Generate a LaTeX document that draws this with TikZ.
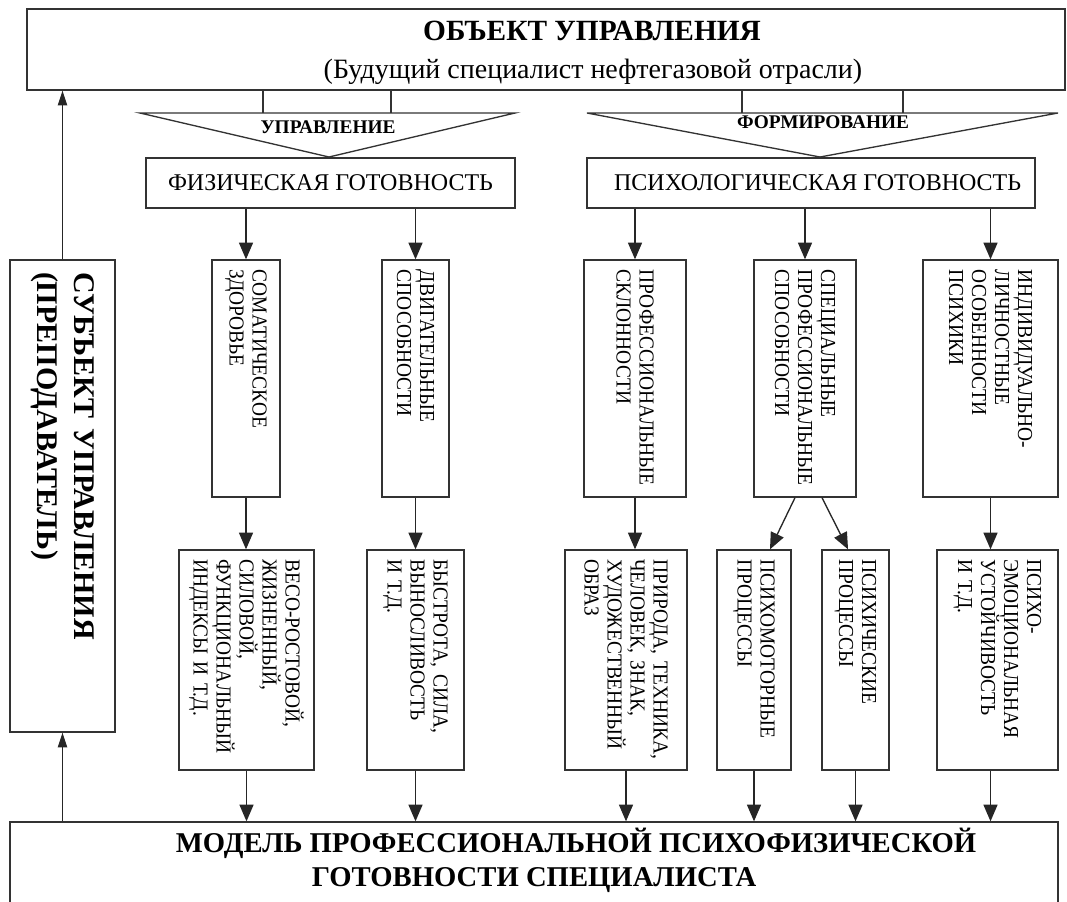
\documentclass[tikz,border=0pt]{standalone}
\usepackage{fontspec}
\setmainfont{Liberation Serif}
\newfontfamily\condfont{Liberation Serif}[FakeStretch=0.91]
\usetikzlibrary{arrows.meta,calc}
\begin{document}
\begin{tikzpicture}[x=0.75pt,y=-0.75pt,
  line width=1pt,
  box/.style={draw=black!80, line width=1pt, inner sep=0pt},
  vt/.style={box, rotate=-90, align=left, font=\condfont\fontsize{16}{17.25}\selectfont, inner xsep=7pt},
  arr/.style={draw=black!85, line width=1pt, -{Triangle[length=12.5pt,width=10.5pt]}},
  uparr/.style={draw=black!85, line width=0.8pt, -{Triangle[length=11pt,width=7pt]}},
  tri/.style={draw=black!80, line width=1pt},
]
\useasboundingbox (0,0) rectangle (1067,901);
% top box
\node[box, minimum width=778.5pt, minimum height=60.75pt] (top) at (546,49.5) {};
\node[font=\bfseries\fontsize{22}{26}\selectfont] (ttl) at (592,31) {ОБЪЕКТ УПРАВЛЕНИЯ};
\node[font=\fontsize{21}{24}\selectfont] (tsub) at (593,72) {(Будущий специалист нефтегазовой отрасли)};
% triangles
\coordinate (lt1) at (140,113); \coordinate (lt2) at (515,113); \coordinate (lt3) at (329,157);
\coordinate (rt1) at (587,113); \coordinate (rt2) at (1058,113); \coordinate (rt3) at (820,157);
\draw[tri] (lt1) -- (lt2) -- (lt3) -- cycle;
\draw[tri] (rt1) -- (rt2) -- (rt3) -- cycle;
\coordinate (lc1) at (263,113); \coordinate (lc2) at (391,113);
\coordinate (rc1) at (742,113); \coordinate (rc2) at (903,113);
\draw[tri] (lc1 |- top.south) -- (lc1);
\draw[tri] (lc2 |- top.south) -- (lc2);
\draw[tri] (rc1 |- top.south) -- (rc1);
\draw[tri] (rc2 |- top.south) -- (rc2);
\node[font=\bfseries\fontsize{14.5}{16}\selectfont] (lupr) at (328,127) {УПРАВЛЕНИЕ};
\node[font=\bfseries\fontsize{14.5}{16}\selectfont] (lform) at (823,122) {ФОРМИРОВАНИЕ};
% readiness boxes
\node[box, minimum width=276.75pt, minimum height=37.5pt, font=\fontsize{18}{20}\selectfont] (fiz) at (330.5,183) {ФИЗИЧЕСКАЯ ГОТОВНОСТЬ};
\node[box, minimum width=336pt, minimum height=37.5pt, font=\fontsize{18}{20}\selectfont] (psy) at (811,183) {\hspace*{10pt}ПСИХОЛОГИЧЕСКАЯ ГОТОВНОСТЬ};
% row 2
\node[vt, minimum width=177.75pt, minimum height=51pt, text width=163pt] (som) at (246,378.5) {СОМАТИЧЕСКОЕ\\ЗДОРОВЬЕ};
\node[vt, minimum width=177.75pt, minimum height=50.25pt, text width=163pt] (dvig) at (415.5,378.5) {ДВИГАТЕЛЬНЫЕ\\СПОСОБНОСТИ};
\node[vt, minimum width=177.75pt, minimum height=76.5pt, text width=163pt] (prof) at (635,378.5) {ПРОФЕССИОНАЛЬНЫЕ\\СКЛОННОСТИ};
\node[vt, minimum width=177.75pt, minimum height=76.5pt, text width=163pt] (spec) at (805,378.5) {СПЕЦИАЛЬНЫЕ\\ПРОФЕССИОНАЛЬНЫЕ\\СПОСОБНОСТИ};
\node[vt, minimum width=177.75pt, minimum height=101.25pt, text width=163pt] (indiv) at (990.5,378.5) {ИНДИВИДУАЛЬНО-\\ЛИЧНОСТНЫЕ\\ОСОБЕННОСТИ\\ПСИХИКИ};
% row 3
\node[vt, minimum width=162pt, minimum height=101.25pt, text width=151pt] (veso) at (246.5,660) {ВЕСО-РОСТОВОЙ,\\ЖИЗНЕННЫЙ,\\СИЛОВОЙ,\\ФУНКЦИОНАЛЬНЫЙ\\ИНДЕКСЫ И Т.Д.};
\node[vt, minimum width=162pt, minimum height=72.75pt, text width=151pt] (bystr) at (415.5,660) {БЫСТРОТА, СИЛА,\\ВЫНОСЛИВОСТЬ\\И Т.Д.};
\node[vt, minimum width=162pt, minimum height=91.5pt, text width=151pt] (prir) at (626,660) {ПРИРОДА, ТЕХНИКА,\\ЧЕЛОВЕК, ЗНАК,\\ХУДОЖЕСТВЕННЫЙ\\ОБРАЗ};
\node[vt, minimum width=162pt, minimum height=55.5pt, text width=151pt] (pmot) at (754,660) {ПСИХОМОТОРНЫЕ\\ПРОЦЕССЫ};
\node[vt, minimum width=162pt, minimum height=50.25pt, text width=151pt] (psih) at (855.5,660) {ПСИХИЧЕСКИЕ\\ПРОЦЕССЫ};
\node[vt, minimum width=162pt, minimum height=90.75pt, text width=151pt] (emoc) at (997.5,660) {ПСИХО-\\ЭМОЦИОНАЛЬНАЯ\\УСТОЙЧИВОСТЬ\\И Т.Д.};
% bottom box
\node[box, minimum width=786pt, minimum height=62.25pt] (bot) at (534,863.5) {};
\node[font=\bfseries\fontsize{21.5}{26}\selectfont] (bt1) at (576,843) {МОДЕЛЬ ПРОФЕССИОНАЛЬНОЙ ПСИХОФИЗИЧЕСКОЙ};
\node[font=\bfseries\fontsize{21.5}{26}\selectfont] (bt2) at (534,880) {ГОТОВНОСТИ СПЕЦИАЛИСТА};
% left box
\node[vt, font=\bfseries\fontsize{22.5}{28}\selectfont, minimum width=354pt, minimum height=78.75pt, text width=336pt] (subj) at (62.5,496) {СУБЪЕКТ УПРАВЛЕНИЯ\\(ПРЕПОДАВАТЕЛЬ)};
% arrows
\draw[arr] (som.west |- fiz.south) -- (som.west);
\draw[arr] (dvig.west |- fiz.south) -- (dvig.west);
\draw[arr] (prof.west |- psy.south) -- (prof.west);
\draw[arr] (spec.west |- psy.south) -- (spec.west);
\draw[arr] (indiv.west |- psy.south) -- (indiv.west);
\draw[arr] (som.east) -- (som.east |- veso.west);
\draw[arr] (dvig.east) -- (dvig.east |- bystr.west);
\draw[arr] (prof.east) -- (prof.east |- prir.west);
\draw[arr] ([xshift=-7.5pt]spec.east) -- ([xshift=12pt]pmot.west);
\draw[arr] ([xshift=12.75pt]spec.east) -- ([xshift=-5.6pt]psih.west);
\draw[arr] (indiv.east) -- (indiv.east |- emoc.west);
\draw[arr] (veso.east) -- (veso.east |- bot.north);
\draw[arr] (bystr.east) -- (bystr.east |- bot.north);
\draw[arr] (prir.east) -- (prir.east |- bot.north);
\draw[arr] (pmot.east) -- (pmot.east |- bot.north);
\draw[arr] (psih.east) -- (psih.east |- bot.north);
\draw[arr] (indiv.east |- emoc.east) -- (indiv.east |- bot.north);
\draw[uparr] (subj.east |- bot.north) -- (subj.east);
\draw[uparr] (subj.west) -- (subj.west |- top.south);
\end{tikzpicture}
\end{document}
